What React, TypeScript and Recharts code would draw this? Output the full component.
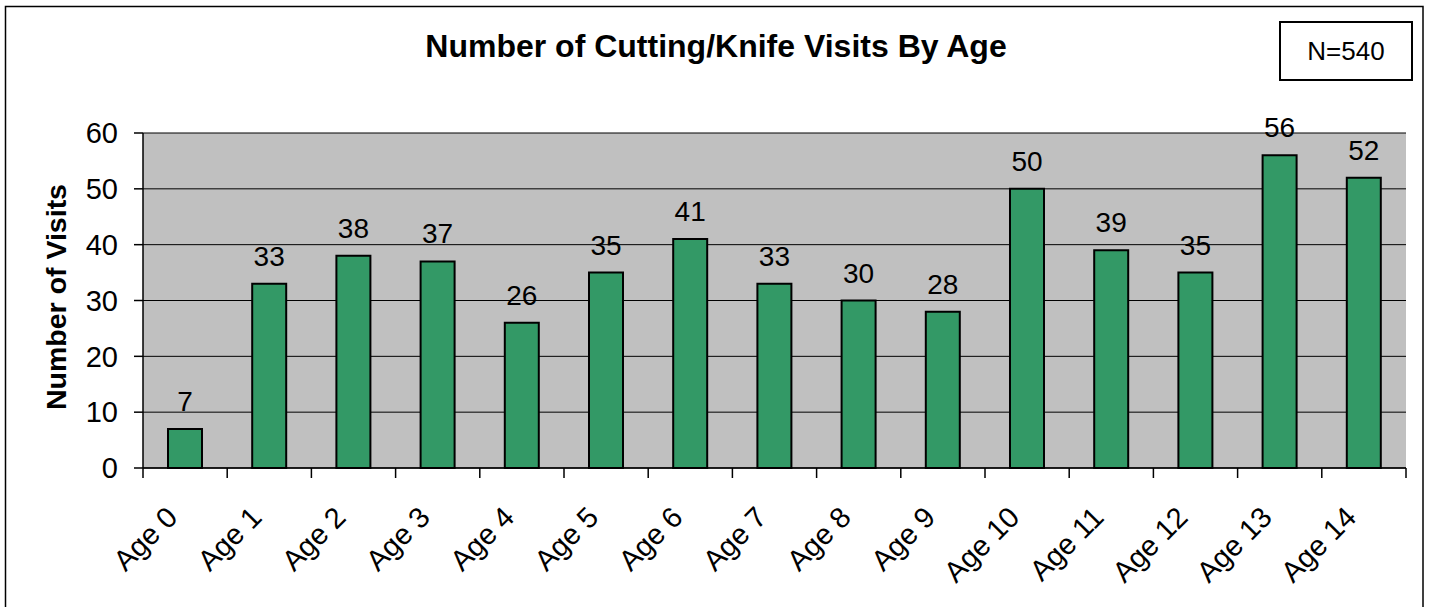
import React from 'react';
import { BarChart, Bar, XAxis, YAxis, CartesianGrid, LabelList } from 'recharts';

const categories = ['Age 0', 'Age 1', 'Age 2', 'Age 3', 'Age 4', 'Age 5', 'Age 6', 'Age 7', 'Age 8', 'Age 9', 'Age 10', 'Age 11', 'Age 12', 'Age 13', 'Age 14'];
const visits = [7, 33, 38, 37, 26, 35, 41, 33, 30, 28, 50, 39, 35, 56, 52];
const yTicks = [0, 10, 20, 30, 40, 50, 60];
const title = 'Number of Cutting/Knife Visits By Age';
const yLabel = 'Number of Visits';
const nLabel = 'N=540';

const data = categories.map((c, i) => ({ name: c, value: visits[i] }));

const FONT = '"Liberation Sans", Arial, sans-serif';

const XTick = (props: any) => {
  const { x, y, payload, width, visibleTicksCount, index } = props;
  const band = width / visibleTicksCount;
  const left = x - band / 2;
  const right = x + band / 2;
  const tx = x - 6;
  const ty = y + 51;
  return (
    <g>
      <line x1={left} y1={y} x2={left} y2={y + 10} stroke="#000" strokeWidth={1.5} />
      {index === visibleTicksCount - 1 && (
        <line x1={right} y1={y} x2={right} y2={y + 10} stroke="#000" strokeWidth={1.5} />
      )}
      <text x={tx} y={ty} transform={`rotate(-45, ${tx}, ${ty})`} textAnchor="end" fontSize={29} fontFamily={FONT} fill="#000">
        {payload.value}
      </text>
    </g>
  );
};

export default function App() {
  return (
    <div style={{ position: 'absolute', left: 0, top: 0, width: 1429, height: 607, background: '#fff', overflow: 'hidden', fontFamily: FONT }}>
      <BarChart
        width={1429}
        height={607}
        data={data}
        margin={{ top: 133, right: 23, bottom: 138, left: 0 }}
        barSize={34}
      >
        <CartesianGrid vertical={false} fill="#C0C0C0" fillOpacity={1} stroke="#000" strokeWidth={1} />
        <XAxis
          dataKey="name"
          height={1}
          tickLine={false}
          tickSize={0}
          tickMargin={0}
          axisLine={{ stroke: '#000', strokeWidth: 1.5 }}
          tick={<XTick />}
          interval={0}
        />
        <YAxis
          width={143}
          domain={[0, 60]}
          ticks={yTicks}
          interval={0}
          tickSize={9}
          tickMargin={16}
          axisLine={{ stroke: '#000', strokeWidth: 1.5 }}
          tickLine={{ stroke: '#000', strokeWidth: 1.5 }}
          tick={{ fontSize: 29, fill: '#000', fontFamily: FONT }}
        />
        <Bar dataKey="value" fill="#339966" stroke="#000" strokeWidth={2} isAnimationActive={false}>
          <LabelList dataKey="value" position="top" offset={18} fontSize={28} fill="#000" fontFamily={FONT} />
        </Bar>
      </BarChart>
      <svg width={1429} height={607} style={{ position: 'absolute', left: 0, top: 0, pointerEvents: 'none' }}>
        <rect x={5.5} y={6.5} width={1417.5} height={620} fill="none" stroke="#000" strokeWidth={1.5} />
        <text x={716} y={57} textAnchor="middle" fontSize={32} fontWeight="bold" fontFamily={FONT} fill="#000">
          {title}
        </text>
        <text x={66} y={297} transform="rotate(-90, 66, 297)" textAnchor="middle" fontSize={28.5} fontWeight="bold" fontFamily={FONT} fill="#000">
          {yLabel}
        </text>
        <rect x={1280} y={22} width={132} height={58} fill="#fff" stroke="#000" strokeWidth={2} />
        <text x={1346} y={60} textAnchor="middle" fontSize={26} fontFamily={FONT} fill="#000">
          {nLabel}
        </text>
      </svg>
    </div>
  );
}
